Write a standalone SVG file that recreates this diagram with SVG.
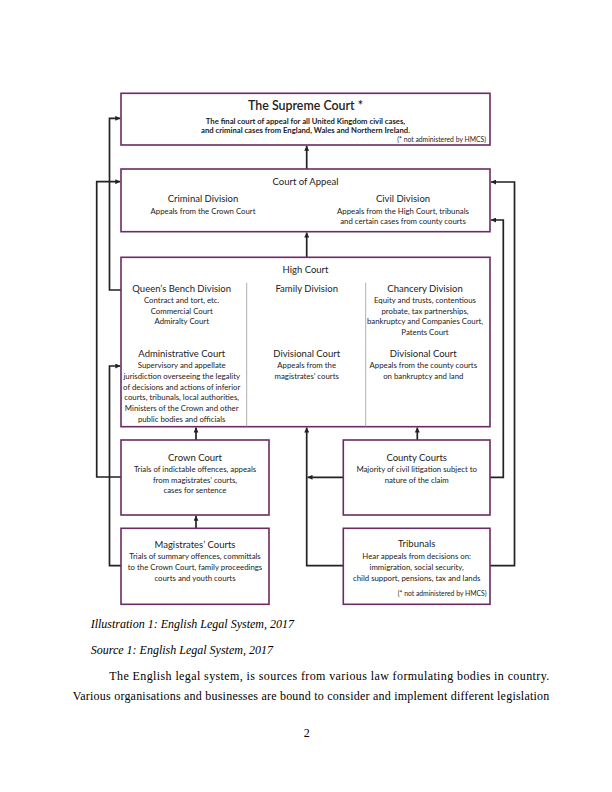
<svg xmlns="http://www.w3.org/2000/svg" width="612" height="792" viewBox="0 0 612 792">
<defs>
<marker id="ah" viewBox="0 0 10 10" refX="10" refY="5" markerWidth="5" markerHeight="5" markerUnits="userSpaceOnUse" orient="auto">
<path d="M0,0 L10,5 L0,10 z" fill="#222"/>
</marker>
</defs>
<style>
.box{fill:#fff;stroke:#6b2b63;stroke-width:1.6}
.ln{fill:none;stroke:#222;stroke-width:1.7}
.div{stroke:#999;stroke-width:0.8}
text{font-family:Lato,"Open Sans",sans-serif;fill:#222;text-anchor:middle}
.h1{font-size:12.4px;font-weight:600}
.b{font-size:7.7px;font-weight:700}
.h{font-size:9.5px}
.s{font-size:7.8px}
.n{font-size:6.8px;text-anchor:end}
.cap{font-family:"Liberation Serif",serif;font-size:12px;font-style:italic;text-anchor:start;fill:#000}
.p{font-family:"Liberation Serif",serif;font-size:12px;text-anchor:start;fill:#000}
</style>
<rect width="612" height="792" fill="#fff"/>
<g id="connectors">
<path class="ln" d="M306.7,169 V145.8" marker-end="url(#ah)"/>
<path class="ln" d="M306.7,257 V232.5" marker-end="url(#ah)"/>
<path class="ln" d="M121,290 H109.5 V118.3 H120.3" marker-end="url(#ah)"/>
<path class="ln" d="M121,477 H96.7 V181.7 H120.3" marker-end="url(#ah)"/>
<path class="ln" d="M121,565.7 H109.5 V366 H120.3" marker-end="url(#ah)"/>
<path class="ln" d="M196,440 V427.5" marker-end="url(#ah)"/>
<path class="ln" d="M196,528.3 V515.8" marker-end="url(#ah)"/>
<path class="ln" d="M417.3,440 V427.5" marker-end="url(#ah)"/>
<path class="ln" d="M343.3,565.7 H306.7 V427.5" marker-end="url(#ah)"/>
<path class="ln" d="M343.3,477.3 H307.5" marker-end="url(#ah)"/>
<path class="ln" d="M490,477.3 H503.3 V220 H491" marker-end="url(#ah)"/>
<path class="ln" d="M490,565.7 H514.5 V182 H491" marker-end="url(#ah)"/>
</g>
<g id="supreme-court">
<rect class="box" x="121" y="93.3" width="369" height="51.7"/>
<text class="h1" x="305.5" y="110.3">The Supreme Court *</text>
<text class="b" x="305.5" y="123.6">The final court of appeal for all United Kingdom civil cases,</text>
<text class="b" x="305.5" y="132.6">and criminal cases from England, Wales and Northern Ireland.</text>
<text class="n" x="486" y="142">(* not administered by HMCS)</text>
</g>
<g id="court-of-appeal">
<rect class="box" x="121" y="169" width="369" height="62.7"/>
<text class="h" x="305.5" y="184.7">Court of Appeal</text>
<text class="h" x="203" y="202">Criminal Division</text>
<text class="s" x="203" y="213.5">Appeals from the Crown Court</text>
<text class="h" x="403" y="202">Civil Division</text>
<text class="s" x="403" y="213.5">Appeals from the High Court, tribunals</text>
<text class="s" x="403" y="223.8">and certain cases from county courts</text>
</g>
<g id="high-court">
<rect class="box" x="121" y="257.3" width="369" height="169.4"/>
<line class="div" x1="246.7" y1="282.7" x2="246.7" y2="426.7"/>
<line class="div" x1="365.7" y1="282.7" x2="365.7" y2="426.7"/>
<text class="h" x="305.5" y="272.5">High Court</text>
<text class="h" x="181.7" y="292.3">Queen’s Bench Division</text>
<text class="s" x="181.7" y="303.2">Contract and tort, etc.</text>
<text class="s" x="181.7" y="313.5">Commercial Court</text>
<text class="s" x="181.7" y="323.8">Admiralty Court</text>
<text class="h" x="306.7" y="292.3">Family Division</text>
<text class="h" x="425" y="292.3">Chancery Division</text>
<text class="s" x="425" y="303.2">Equity and trusts, contentious</text>
<text class="s" x="425" y="313.5">probate, tax partnerships,</text>
<text class="s" x="425" y="323.8">bankruptcy and Companies Court,</text>
<text class="s" x="425" y="335.2">Patents Court</text>
<text class="h" x="181.7" y="357">Administrative Court</text>
<text class="s" x="181.7" y="368.2">Supervisory and appellate</text>
<text class="s" x="181.7" y="379.2">jurisdiction overseeing the legality</text>
<text class="s" x="181.7" y="389.5">of decisions and actions of inferior</text>
<text class="s" x="181.7" y="400.2">courts, tribunals, local authorities,</text>
<text class="s" x="181.7" y="410.5">Ministers of the Crown and other</text>
<text class="s" x="181.7" y="421.5">public bodies and officials</text>
<text class="h" x="306.7" y="357">Divisional Court</text>
<text class="s" x="306.7" y="368.2">Appeals from the</text>
<text class="s" x="306.7" y="379.2">magistrates’ courts</text>
<text class="h" x="423.3" y="357">Divisional Court</text>
<text class="s" x="423.3" y="368.2">Appeals from the county courts</text>
<text class="s" x="423.3" y="379.2">on bankruptcy and land</text>
</g>
<g id="crown-court">
<rect class="box" x="121" y="440" width="148" height="75"/>
<text class="h" x="195" y="461">Crown Court</text>
<text class="s" x="195" y="471.5">Trials of indictable offences, appeals</text>
<text class="s" x="195" y="482.5">from magistrates’ courts,</text>
<text class="s" x="195" y="492.8">cases for sentence</text>
</g>
<g id="county-courts">
<rect class="box" x="343.3" y="440" width="146.7" height="75"/>
<text class="h" x="416.7" y="461">County Courts</text>
<text class="s" x="416.7" y="471.5">Majority of civil litigation subject to</text>
<text class="s" x="416.7" y="482.5">nature of the claim</text>
</g>
<g id="magistrates-courts">
<rect class="box" x="121" y="528.3" width="148" height="76"/>
<text class="h" x="195" y="548.3">Magistrates’ Courts</text>
<text class="s" x="195" y="559.2">Trials of summary offences, committals</text>
<text class="s" x="195" y="570.2">to the Crown Court, family proceedings</text>
<text class="s" x="195" y="580.8">courts and youth courts</text>
</g>
<g id="tribunals">
<rect class="box" x="343.3" y="528.3" width="146.7" height="76"/>
<text class="h" x="416.7" y="546.6">Tribunals</text>
<text class="s" x="416.7" y="559.2">Hear appeals from decisions on:</text>
<text class="s" x="416.7" y="570.2">immigration, social security,</text>
<text class="s" x="416.7" y="580.8">child support, pensions, tax and lands</text>
<text class="n" x="486.5" y="595.5">(* not administered by HMCS)</text>
</g>
<text class="cap" x="90.7" y="627.5">Illustration 1: English Legal System, 2017</text>
<text class="cap" x="90.7" y="653.5">Source 1: English Legal System, 2017</text>
<text class="p" x="109.3" y="680" textLength="440" lengthAdjust="spacing">The English legal system, is sources from various law formulating bodies in country.</text>
<text class="p" x="72.7" y="699.5" textLength="476.6" lengthAdjust="spacing">Various organisations and businesses are bound to consider and implement different legislation</text>
<text class="p" x="306.7" y="737" style="text-anchor:middle">2</text>
</svg>
